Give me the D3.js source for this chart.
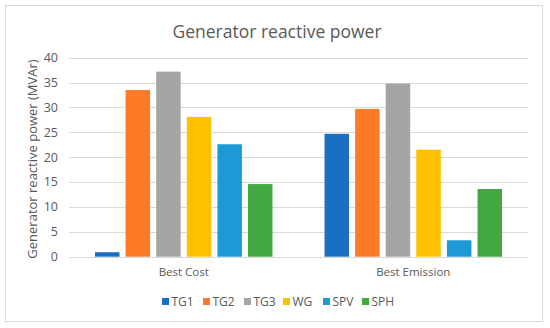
<!DOCTYPE html>
<html>
<head>
<meta charset="utf-8">
<script src="https://cdn.jsdelivr.net/npm/d3@7"></script>
<style>
    body { margin: 0; background: #fff; }
    text { font-family: "Open Sans", "Noto Sans", sans-serif; fill: #595959; }
</style>
</head>
<body>
<script>
// chart data
const groups = ["Best Cost", "Best Emission"];
const series = ["TG1", "TG2", "TG3", "WG", "SPV", "SPH"];
const bestCost = [0.9, 33.5, 37.2, 28.1, 22.6, 14.6];
const bestEmission = [24.7, 29.7, 34.8, 21.5, 3.3, 13.6];
const yTicks = [0, 5, 10, 15, 20, 25, 30, 35, 40];
const colors = ["#1b6fc2", "#fd7b26", "#a5a5a5", "#ffc000", "#1b9ad6", "#43a843"];

let width = 550,
    height = 328;

let svg = d3.select("body").append("svg")
    .attr("width", width)
    .attr("height", height);

// chart frame
svg.append("rect")
    .attr("x", 5.5).attr("y", 5.5)
    .attr("width", 537).attr("height", 316)
    .attr("fill", "#fff")
    .attr("stroke", "#d9d9d9");

let x0 = d3.scaleBand()
    .domain(groups)
    .range([69, 528]);

let x1 = d3.scaleBand()
    .domain(series)
    .range([0, x0.bandwidth()])
    .paddingInner(0.2)
    .paddingOuter(0.85);

let y = d3.scaleLinear()
    .domain([0, 40])
    .range([256.7, 57.7]);

let color = d3.scaleOrdinal()
    .domain(series)
    .range(colors);

// gridlines
svg.append("g").selectAll("line")
    .data(yTicks)
    .enter().append("line")
    .attr("x1", 69).attr("x2", 528)
    .attr("y1", d => Math.round(y(d)) + 0.5)
    .attr("y2", d => Math.round(y(d)) + 0.5)
    .attr("stroke", "#d9d9d9");

// y tick labels
svg.append("g").selectAll("text")
    .data(yTicks)
    .enter().append("text")
    .attr("x", 58)
    .attr("y", d => y(d))
    .attr("dy", "0.35em")
    .attr("text-anchor", "end")
    .style("font-size", "12.5px")
    .text(d => d);

let values = groups.map((g, i) => ({
    group: g,
    bars: series.map((s, j) => ({ key: s, value: (i === 0 ? bestCost : bestEmission)[j] }))
}));

let groupSel = svg.append("g").selectAll("g")
    .data(values)
    .enter().append("g")
    .attr("transform", d => "translate(" + x0(d.group) + ",0)");

groupSel.selectAll("rect")
    .data(d => d.bars)
    .enter().append("rect")
    .attr("x", d => x1(d.key))
    .attr("width", x1.bandwidth())
    .attr("y", d => y(d.value))
    .attr("height", d => y(0) - y(d.value))
    .attr("fill", d => color(d.key));

// category labels
svg.append("g").selectAll("text")
    .data(groups)
    .enter().append("text")
    .attr("x", d => x0(d) + x0.bandwidth() / 2)
    .attr("y", 276)
    .attr("text-anchor", "middle")
    .style("font-size", "11.5px")
    .text(d => d);

// title
svg.append("text")
    .attr("x", 277)
    .attr("y", 38)
    .attr("text-anchor", "middle")
    .style("font-size", "17.5px")
    .text("Generator reactive power");

// y axis title
svg.append("text")
    .attr("transform", "translate(37,159) rotate(-90)")
    .attr("text-anchor", "middle")
    .style("font-size", "13px")
    .text("Generator reactive power (MVAr)");

// legend
let legendX = [162, 203, 244, 283, 323, 362];
let legend = svg.append("g").selectAll("g")
    .data(series)
    .enter().append("g")
    .attr("transform", (d, i) => "translate(" + legendX[i] + ",298)");

legend.append("rect")
    .attr("width", 7).attr("height", 7)
    .attr("fill", d => color(d));

legend.append("text")
    .attr("x", 9.5)
    .attr("y", 3.5)
    .attr("dy", "0.35em")
    .style("font-size", "12px")
    .text(d => d);
</script>
</body>
</html>
